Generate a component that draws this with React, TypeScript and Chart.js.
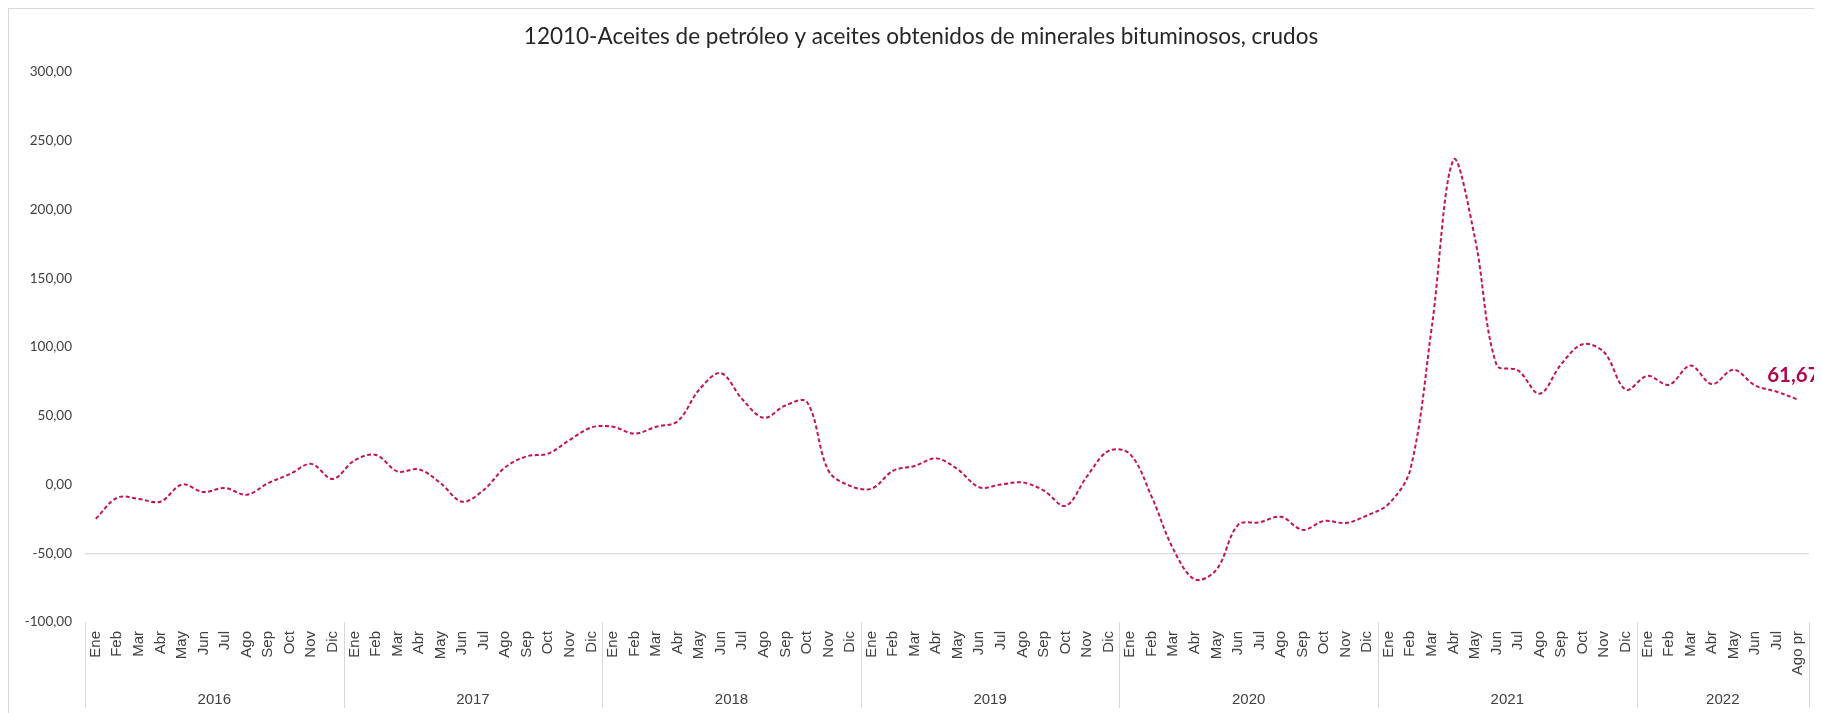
import React, { useEffect, useRef } from 'react';
import { Chart, registerables } from 'chart.js';

Chart.register(...registerables);

const TITLE = '12010-Aceites de petróleo y aceites obtenidos de minerales bituminosos, crudos';
const MONTHS = ['Ene', 'Feb', 'Mar', 'Abr', 'May', 'Jun', 'Jul', 'Ago', 'Sep', 'Oct', 'Nov', 'Dic'];
const YEARS = ['2016', '2017', '2018', '2019', '2020', '2021', '2022'];
const LAST_LABEL = 'Ago pr';

const v2016 = [-25, -9.5, -10.5, -12.5, 0, -5.5, -2.5, -7.5, 1, 7.5, 15, 4];
const v2017 = [17.5, 21.5, 9.5, 11, 1, -12.5, -4, 12.5, 20.5, 22.5, 32.5, 41.5];
const v2018 = [42, 37, 42, 46, 69, 81, 62, 48.5, 57.5, 60, 10, -1];
const v2019 = [-3, 10, 13.5, 19, 11, -2, 0, 1.5, -4.5, -15.5, 6, 24.5];
const v2020 = [22, -9, -47, -69, -62, -29.5, -27.5, -23.5, -33, -26.5, -28, -22.5];
const v2021 = [-14, 11, 115, 236, 179, 87, 83, 66, 87.5, 102, 96, 69];
const v2022 = [79, 72.5, 86.5, 73, 83.5, 72, 67.5, 61.67];

const YEAR_VALUES = [v2016, v2017, v2018, v2019, v2020, v2021, v2022];

const Y_MIN = -100;
const Y_MAX = 300;
const Y_STEP = 50;
const GRID_VALUE = -50;

const LINE_COLOR = '#C4135A';
const LABEL_COLOR = '#B0084E';
const TEXT_COLOR = '#404040';
const GRID_COLOR = '#D9D9D9';

const fmt = (v: number) => v.toFixed(2).replace('.', ',');

const labels: string[] = [];
const values: number[] = [];
YEAR_VALUES.forEach((arr, yi) => {
  arr.forEach((v, mi) => {
    const isLast = yi === YEAR_VALUES.length - 1 && mi === arr.length - 1;
    labels.push(isLast ? LAST_LABEL : MONTHS[mi]);
    values.push(v);
  });
});

const decorPlugin = {
  id: 'decor',
  afterDraw(chart: any) {
    const { ctx, chartArea, scales } = chart;
    const x = scales.x;
    ctx.save();
    // title
    ctx.font = '22.5px Lato';
    ctx.fillStyle = '#262626';
    ctx.textAlign = 'center';
    ctx.textBaseline = 'middle';
    ctx.fillText(TITLE, chart.width / 2 - 1, 28);

    // year groups
    const half = (x.getPixelForValue(1) - x.getPixelForValue(0)) / 2;
    ctx.strokeStyle = GRID_COLOR;
    ctx.lineWidth = 1;
    ctx.font = '15px "Liberation Sans"';
    ctx.fillStyle = TEXT_COLOR;
    let idx = 0;
    const top = chartArea.bottom;
    const bottom = chartArea.bottom + 86;
    YEAR_VALUES.forEach((arr, yi) => {
      const start = x.getPixelForValue(idx) - half;
      const end = x.getPixelForValue(idx + arr.length - 1) + half;
      const sx = Math.round(start) + 0.5;
      ctx.beginPath();
      ctx.moveTo(sx, top);
      ctx.lineTo(sx, bottom);
      ctx.stroke();
      if (yi === YEAR_VALUES.length - 1) {
        const ex = Math.round(end) + 0.5;
        ctx.beginPath();
        ctx.moveTo(ex, top);
        ctx.lineTo(ex, bottom);
        ctx.stroke();
      }
      ctx.fillText(YEARS[yi], (start + end) / 2, chartArea.bottom + 78);
      idx += arr.length;
    });

    // last value label
    const meta = chart.getDatasetMeta(0);
    const lastIdx = values.length - 1;
    const pt = meta.data[lastIdx];
    ctx.font = 'bold 20.5px Lato';
    ctx.fillStyle = LABEL_COLOR;
    ctx.textAlign = 'left';
    ctx.textBaseline = 'middle';
    ctx.fillText(fmt(values[lastIdx]), pt.x - 31, pt.y - 24);
    ctx.restore();
  },
};

export default function App() {
  const ref = useRef<HTMLCanvasElement | null>(null);

  useEffect(() => {
    document.documentElement.style.overflow = 'hidden';
    document.body.style.overflow = 'hidden';
    const canvas = ref.current;
    if (!canvas) return;
    const chart = new Chart(canvas, {
      type: 'line',
      data: {
        labels,
        datasets: [
          {
            data: values,
            borderColor: LINE_COLOR,
            borderWidth: 2,
            borderDash: [4, 2.5],
            pointRadius: 0,
            tension: 0.35,
            fill: false,
          },
        ],
      },
      options: {
        animation: false,
        responsive: false,
        devicePixelRatio: 1,
        layout: { padding: { top: 63, right: 26, bottom: 0, left: 0 } },
        plugins: {
          legend: { display: false },
          title: { display: false },
          tooltip: { enabled: false },
        },
        scales: {
          x: {
            type: 'category',
            offset: true,
            grid: { display: false, drawTicks: false },
            border: { display: false },
            ticks: {
              autoSkip: false,
              minRotation: 90,
              maxRotation: 90,
              padding: 9,
              color: TEXT_COLOR,
              font: { family: '"Liberation Sans"', size: 15 },
            },
            afterFit: (s: any) => {
              s.height = 99;
            },
          },
          y: {
            min: Y_MIN,
            max: Y_MAX,
            grid: {
              drawTicks: false,
              color: (c: any) => (c.tick && c.tick.value === GRID_VALUE ? GRID_COLOR : 'rgba(0,0,0,0)'),
              lineWidth: 1.2,
            },
            border: { display: false },
            ticks: {
              stepSize: Y_STEP,
              padding: 13,
              color: TEXT_COLOR,
              font: { family: 'Lato', size: 13.5 },
              callback: (v: any) => fmt(Number(v)),
            },
            afterFit: (s: any) => {
              s.width = 76;
            },
          },
        },
      },
      plugins: [decorPlugin],
    });
    return () => chart.destroy();
  }, []);

  return (
    <div
      style={{
        width: 1827,
        height: 713,
        borderTop: '1px solid #D9D9D9',
        borderLeft: '1px solid #D9D9D9',
        background: '#fff',
      }}
    >
      <canvas ref={ref} width={1826} height={712} style={{ display: 'block' }} />
    </div>
  );
}
